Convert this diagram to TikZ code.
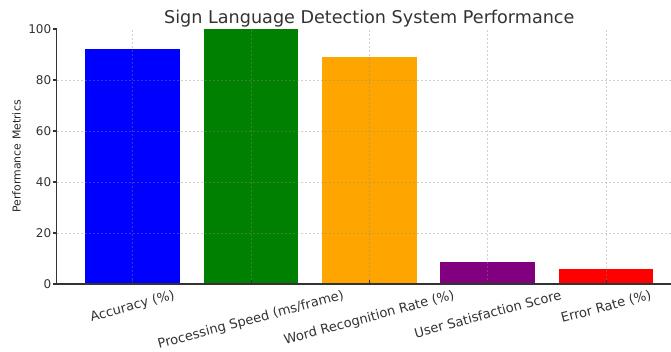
\documentclass[tikz,border=0pt]{standalone}
\usepackage{fontspec}
\setmainfont{DejaVu Sans}
\usepackage{graphicx}
\usetikzlibrary{positioning}
\definecolor{barblue}{HTML}{0000FF}
\definecolor{bargreen}{HTML}{008000}
\definecolor{barorange}{HTML}{FFA500}
\definecolor{barpurple}{HTML}{800080}
\definecolor{barred}{HTML}{FF0000}
\definecolor{axisgray}{HTML}{333333}
\definecolor{gridgray}{HTML}{8C8C8C}

\begin{document}
\begin{tikzpicture}[x=88.8pt, y=1.9125pt,
    spine/.style={axisgray, line width=1pt},
    gridline/.style={gridgray, opacity=0.4, line width=0.5pt, dash pattern=on 1.5pt off 1.5pt},
    ticklabel/.style={font=\fontsize{9}{10}\selectfont, text=axisgray, inner sep=0pt},
    catlabel/.style={font=\fontsize{9.8}{11}\selectfont, text=axisgray, inner sep=0pt, anchor=north},
    charttitle/.style={font=\fontsize{13.2}{15}\selectfont, text=axisgray, inner sep=0pt, anchor=base},
  ]
  \useasboundingbox (-1.1191,-26.667) rectangle (4.5481,111.37);

  % bars
  \fill[barblue] (-0.4,0) rectangle (0.4,92);
  \fill[bargreen] (0.6,0) rectangle (1.4,100);
  \fill[barorange] (1.6,0) rectangle (2.4,89);
  \fill[barpurple] (2.6,0) rectangle (3.4,8.5);
  \fill[barred] (3.6,0) rectangle (4.4,6);

  % grid
  \foreach \v in {20,40,60,80}
    \draw[gridline] (-0.64,\v) -- (4.5481,\v);
  \foreach \i in {0,...,4}
    \draw[gridline] (\i,0) -- (\i,100);

  % axes
  \coordinate (top) at (-0.64,100);
  \coordinate (origin) at (-0.64,0);
  \coordinate (right) at (4.5481,0);
  \draw[spine] (top) -- (origin) -- (right);

  \foreach \v in {0,20,...,100} {
    \draw[spine] (-0.64,\v) -- (-0.674,\v);
    \node[ticklabel, anchor=east] (ytick\v) at (-0.684,\v) {\v};
  }
  \foreach \i in {0,...,4}
    \draw[spine, line width=0.6pt] (\i,0) -- (\i,1.6);

  % labels
  \node[catlabel] (cat0) at (0,-2) {\rotatebox{15}{Accuracy (\%)}};
  \node[catlabel] (cat1) at (1,-2) {\rotatebox{15}{Processing Speed (ms/frame)}};
  \node[catlabel] (cat2) at (2,-2) {\rotatebox{15}{Word Recognition Rate (\%)}};
  \node[catlabel] (cat3) at (3,-2) {\rotatebox{15}{User Satisfaction Score}};
  \node[catlabel] (cat4) at (4,-2) {\rotatebox{15}{Error Rate (\%)}};

  \node[charttitle] (title) at (2,102.2) {Sign Language Detection System Performance};
  \node[ticklabel, rotate=90, font=\fontsize{8.2}{9}\selectfont, text=black!85] (ylabel) at (-0.979,50) {Performance Metrics};
\end{tikzpicture}
\end{document}
